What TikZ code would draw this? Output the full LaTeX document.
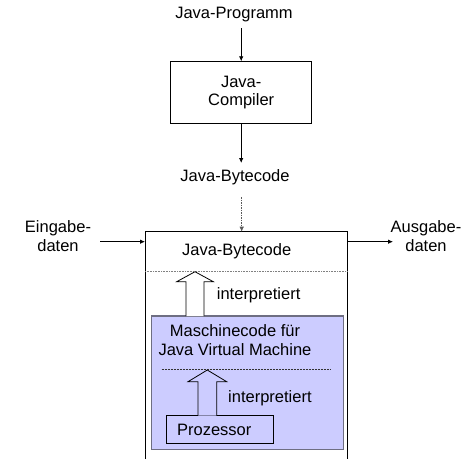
\documentclass[tikz,border=0pt]{standalone}
\usepackage{fontspec}
\setmainfont{Liberation Sans}
\usetikzlibrary{arrows.meta}
\definecolor{jvmblue}{RGB}{204,204,255}
\definecolor{jvmedge}{RGB}{110,110,130}
\begin{document}
\begin{tikzpicture}[x=1pt,y=-1pt,
  txt/.style={inner sep=0pt,font=\fontsize{16.5}{18.5}\selectfont,align=center},
  conn/.style={line width=0.8pt,-{Latex[length=5pt,width=4.5pt]}},
  dconn/.style={line width=0.6pt,dash pattern=on 1.5pt off 1pt,-{Latex[length=5pt,width=4.5pt]}},
  boxline/.style={line width=0.8pt},
  hollow/.style={line width=0.8pt,fill=white}]
\useasboundingbox (0,0) rectangle (471,459);
% top part
\node[txt] (prog) at (234,15) {Java-Programm};
\node[draw,boxline,txt,minimum width=141pt,minimum height=61.6pt] (comp) at (241.2,92.5) {Java-\\Compiler};
\node[txt] (bc1) at (235,177) {Java-Bytecode};
\draw[conn] (comp.north |- 0,28) -- (comp.north);
\draw[conn] (comp.south) -- (comp.south |- 0,163);
% big open box
\coordinate (vmtl) at (145,231.7);
\coordinate (vmtr) at (347.3,231.7);
\coordinate (vmbl) at (145,459);
\coordinate (vmbr) at (347.3,459);
\coordinate (vmtop) at (241.7,231.7);
\draw[boxline] (vmbl) -- (vmtl) -- (vmtr) -- (vmbr);
\draw[dconn,gray!70!black] (241.7,197) -- (vmtop);
% in/out
\node[txt] (ein) at (58,236) {Eingabe-\\daten};
\node[txt] (aus) at (426,236) {Ausgabe-\\daten};
\coordinate (inS) at (100,241.7);
\coordinate (inE) at (145,241.7);
\coordinate (outS) at (347.3,241.7);
\coordinate (outE) at (393,241.7);
\draw[conn] (inS) -- (inE);
\draw[conn] (outS) -- (outE);
% inner bytecode
\node[txt] (bc2) at (236.7,251.7) {Java-Bytecode};
\draw[line width=0.8pt,gray,dash pattern=on 0.8pt off 0.8pt] (145,271) -- (347.3,271);
% blue box
\node[draw=jvmedge,line width=1.2pt,fill=jvmblue,minimum width=191.6pt,minimum height=133.3pt,inner sep=0pt] (jvm) at (247.5,382.65) {};
\node[txt] (mc) at (235,340) {Maschinecode für\\Java Virtual Machine};
\draw[line width=0.5pt,black!80,dash pattern=on 2pt off 1pt] (161.7,369.3) -- (330,369.3);
% Prozessor
\node[draw,boxline,txt,anchor=west,inner xsep=11pt,text width=85pt,align=left,minimum height=27.6pt] (proz) at (165.7,429.5) {Prozessor};
% hollow arrows
\draw[hollow] (186,316) -- (186,281.7) -- (176.7,281.7) -- (195,271.7) -- (213.3,281.7) -- (204,281.7) -- (204,316);
\node[txt,anchor=west] (int1) at (216.7,295) {interpretiert};
\draw[hollow,fill=jvmblue] (198,415.7) -- (198,381.7) -- (188,381.7) -- (207.3,370) -- (226.7,381.7) -- (216.7,381.7) -- (216.7,415.7);
\node[txt,anchor=west] (int2) at (228,398) {interpretiert};
\end{tikzpicture}
\end{document}
